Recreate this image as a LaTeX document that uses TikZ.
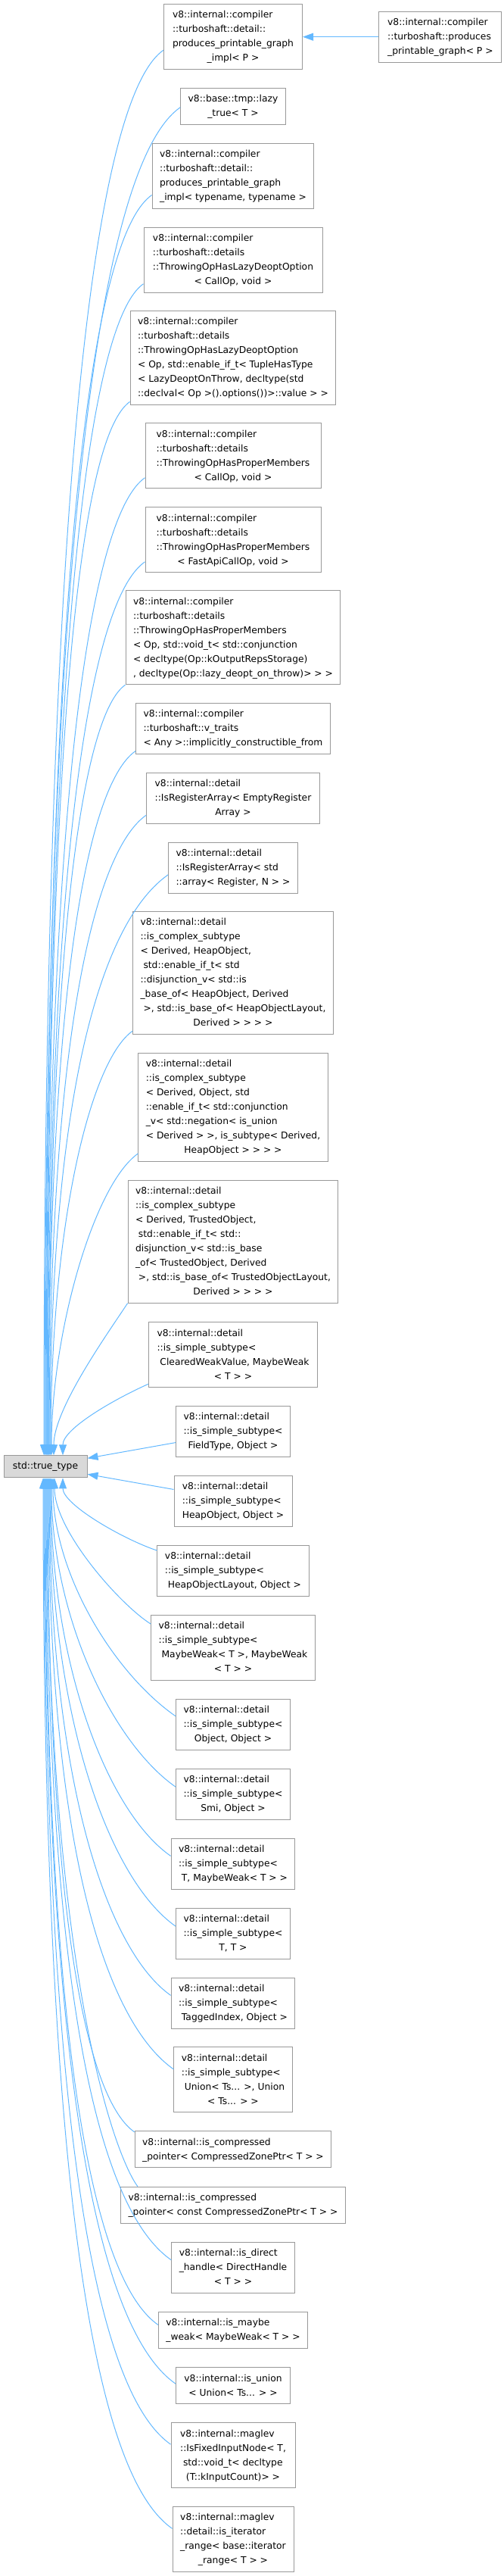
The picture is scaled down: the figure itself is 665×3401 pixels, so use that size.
\documentclass[tikz,border=0pt]{standalone}
\usepackage{fontspec}
\setmainfont{DejaVu Sans}
\usetikzlibrary{arrows.meta,calc}

\definecolor{edgeblue}{HTML}{63B8FF}
\definecolor{boxgray}{HTML}{999999}
\definecolor{curfill}{HTML}{D9D9D9}

% Class label: lines set flush left, the last line centred under them.
\newcommand{\cls}[2]{\begin{tabular}{@{}l@{}}#1\\\multicolumn{1}{@{}c@{}}{#2}\end{tabular}}

\begin{document}
\begin{tikzpicture}[x=1pt, y=-1pt,
  cls/.style={draw=boxgray, line width=1pt, fill=white, inner xsep=10pt, inner ysep=5pt,
    font=\fontsize{12.3}{19}\selectfont},
  cur/.style={cls, fill=curfill, minimum height=29pt},
  inh/.style={draw=edgeblue, line width=1pt, -{Triangle[length=14pt,width=10pt]}}]
  \useasboundingbox (0,0) rectangle (665,3401);

  % The base class, on its own at the left.
  \node[cur, minimum width=110pt] (tt) at (60,1936.3) {std::true\_type};

  % Derived classes, one column, all centred at x = 308.
  \node[cls, minimum width=183pt] (n1) at (308,48.3) {\cls{v8::internal::compiler\\::turboshaft::detail::\\produces\_printable\_graph}{\_impl< P >}};
  \node[cls, minimum width=162pt] (r0) at (581.9,48.7) {\cls{v8::internal::compiler\\::turboshaft::produces}{\_printable\_graph< P >}};
  \node[cls, minimum width=138pt] (n2) at (308,140.5) {\cls{v8::base::tmp::lazy}{\_true< T >}};
  \node[cls, minimum width=209pt] (n3) at (308,232.7) {\cls{v8::internal::compiler\\::turboshaft::detail::\\produces\_printable\_graph}{\_impl< typename, typename >}};
  \node[cls, minimum width=236pt] (n4) at (308,343) {\cls{v8::internal::compiler\\::turboshaft::details\\::ThrowingOpHasLazyDeoptOption}{< CallOp, void >}};
  \node[cls, minimum width=253pt] (n5) at (308,472.5) {\cls{v8::internal::compiler\\::turboshaft::details\\::ThrowingOpHasLazyDeoptOption\\< Op, std::enable\_if\_t< TupleHasType\\< LazyDeoptOnThrow, decltype(std}{::declval< Op >().options())>::value > >}};
  \node[cls, minimum width=232pt] (n6) at (308,601.7) {\cls{v8::internal::compiler\\::turboshaft::details\\::ThrowingOpHasProperMembers}{< CallOp, void >}};
  \node[cls, minimum width=232pt] (n7) at (308,712.7) {\cls{v8::internal::compiler\\::turboshaft::details\\::ThrowingOpHasProperMembers}{< FastApiCallOp, void >}};
  \node[cls, minimum width=277pt] (n8) at (308,841.7) {\cls{v8::internal::compiler\\::turboshaft::details\\::ThrowingOpHasProperMembers\\< Op, std::void\_t< std::conjunction\\< decltype(Op::kOutputRepsStorage)}{, decltype(Op::lazy\_deopt\_on\_throw)> > >}};
  \node[cls, minimum width=251pt] (n9) at (308,961.8) {\cls{v8::internal::compiler\\::turboshaft::v\_traits}{< Any >::implicitly\_constructible\_from}};
  \node[cls, minimum width=229pt] (n10) at (308,1054) {\cls{v8::internal::detail\\::IsRegisterArray< EmptyRegister}{Array >}};
  \node[cls, minimum width=161pt] (n11) at (308,1145.9) {\cls{v8::internal::detail\\::IsRegisterArray< std}{::array< Register, N > >}};
  \node[cls, minimum width=261pt] (n12) at (308,1284.5) {\cls{v8::internal::detail\\::is\_complex\_subtype\\< Derived, HeapObject,\\\ std::enable\_if\_t< std\\::disjunction\_v< std::is\\\_base\_of< HeapObject, Derived\\\ >, std::is\_base\_of< HeapObjectLayout,}{Derived > > > >}};
  \node[cls, minimum width=243pt] (n13) at (308,1461.7) {\cls{v8::internal::detail\\::is\_complex\_subtype\\< Derived, Object, std\\::enable\_if\_t< std::conjunction\\\_v< std::negation< is\_union\\< Derived > >, is\_subtype< Derived,}{HeapObject > > > >}};
  \node[cls, minimum width=276pt] (n14) at (308,1639.2) {\cls{v8::internal::detail\\::is\_complex\_subtype\\< Derived, TrustedObject,\\\ std::enable\_if\_t< std::\\disjunction\_v< std::is\_base\\\_of< TrustedObject, Derived\\\ >, std::is\_base\_of< TrustedObjectLayout,}{Derived > > > >}};
  \node[cls, minimum width=223pt] (n15) at (308,1788.7) {\cls{v8::internal::detail\\::is\_simple\_subtype<\\\ ClearedWeakValue, MaybeWeak}{< T > >}};
  \node[cls, minimum width=150pt] (n16) at (308,1889.8) {\cls{v8::internal::detail\\::is\_simple\_subtype<}{FieldType, Object >}};
  \node[cls, minimum width=156pt] (n17) at (308,1981.7) {\cls{v8::internal::detail\\::is\_simple\_subtype<}{HeapObject, Object >}};
  \node[cls, minimum width=198pt] (n18) at (308,2074) {\cls{v8::internal::detail\\::is\_simple\_subtype<}{\ HeapObjectLayout, Object >}};
  \node[cls, minimum width=213pt] (n19) at (308,2175.2) {\cls{v8::internal::detail\\::is\_simple\_subtype<\\\ MaybeWeak< T >, MaybeWeak}{< T > >}};
  \node[cls, minimum width=150pt] (n20) at (308,2276.5) {\cls{v8::internal::detail\\::is\_simple\_subtype<}{Object, Object >}};
  \node[cls, minimum width=150pt] (n21) at (308,2368.5) {\cls{v8::internal::detail\\::is\_simple\_subtype<}{Smi, Object >}};
  \node[cls, minimum width=155pt] (n22) at (308,2460.5) {\cls{v8::internal::detail\\::is\_simple\_subtype<}{\ T, MaybeWeak< T > >}};
  \node[cls, minimum width=150pt] (n23) at (308,2552.5) {\cls{v8::internal::detail\\::is\_simple\_subtype<}{T, T >}};
  \node[cls, minimum width=163pt] (n24) at (308,2644.5) {\cls{v8::internal::detail\\::is\_simple\_subtype<}{\ TaggedIndex, Object >}};
  \node[cls, minimum width=153pt] (n25) at (308,2745.8) {\cls{v8::internal::detail\\::is\_simple\_subtype<\\\ Union< Ts... >, Union}{< Ts... > >}};
  \node[cls, minimum width=254pt] (n26) at (308,2837.8) {\cls{v8::internal::is\_compressed}{\_pointer< CompressedZonePtr< T > >}};
  \node[cls, minimum width=290pt] (n27) at (308,2911.2) {\cls{v8::internal::is\_compressed}{\_pointer< const CompressedZonePtr< T > >}};
  \node[cls, minimum width=162pt] (n28) at (308,2993.8) {\cls{v8::internal::is\_direct\\\_handle< DirectHandle}{< T > >}};
  \node[cls, minimum width=188pt] (n29) at (308,3076.3) {\cls{v8::internal::is\_maybe}{\_weak< MaybeWeak< T > >}};
  \node[cls, minimum width=151pt] (n30) at (308,3149.8) {\cls{v8::internal::is\_union}{< Union< Ts... > >}};
  \node[cls, minimum width=164pt] (n31) at (308,3241.7) {\cls{v8::internal::maglev\\::IsFixedInputNode< T,\\\ std::void\_t< decltype}{(T::kInputCount)> >}};
  \node[cls, minimum width=160pt] (n32) at (308,3352.5) {\cls{v8::internal::maglev\\::detail::is\_iterator\\\_range< base::iterator}{\_range< T > >}};

  % The one edge that does not end at the base.
  \draw[inh] (r0.west) -- (r0.west -| n1.east);

  % Edges from the classes above the base, arriving on its top.
  \draw[inh] (n1.191) .. controls +(-79,55) and +(0,-1391) .. ([xshift=-2pt]tt.north);
  \draw[inh] (n2.181) .. controls +(-90,63) and +(0,-1334) .. ([xshift=-1pt]tt.north);
  \draw[inh] (n3.193) .. controls +(-72,50) and +(0,-1249) .. (tt.north);
  \draw[inh] (n4.195) .. controls +(-65,45) and +(0,-1145) .. ([xshift=1pt]tt.north);
  \draw[inh] (n5.203) .. controls +(-60,42) and +(0,-1018) .. ([xshift=2pt]tt.north);
  \draw[inh] (n6.194) .. controls +(-65,45) and +(0,-929) .. ([xshift=2pt]tt.north);
  \draw[inh] (n7.194) .. controls +(-65,45) and +(0,-849) .. ([xshift=3pt]tt.north);
  \draw[inh] (n8.south west) .. controls +(-53,37) and +(0,-712) .. ([xshift=4pt]tt.north);
  \draw[inh] (n9.193) .. controls +(-59,41) and +(0,-650) .. ([xshift=4pt]tt.north);
  \draw[inh] (n10.191) .. controls +(-64,45) and +(0,-574) .. ([xshift=5pt]tt.north);
  \draw[inh] (n11.186) .. controls +(-81,57) and +(0,-506) .. ([xshift=6pt]tt.north);
  \draw[inh] (n12.210) .. controls +(-55,39) and +(0,-309) .. ([xshift=7pt]tt.north);
  \draw[inh] (n13.206) .. controls +(-59,42) and +(0,-160) .. ([xshift=8pt]tt.north);
  \draw[inh] (n14.south west) .. controls +(-30,45) and +(0,-60) .. ([xshift=11pt]tt.north);
  \draw[inh] (n15.199) .. controls +(-45,20) and +(0,-35) .. ([xshift=23pt]tt.north);

  % The two nearest classes come straight in on the right side.
  \draw[inh] (n16.191) -- ([yshift=11pt]tt.east);
  \draw[inh] (n17.169) -- ([yshift=-10pt]tt.east);

  % Edges from the classes below, arriving on its bottom.
  \draw[inh] (n18.165) .. controls +(-45,-15) and +(0,35) .. ([xshift=23pt]tt.south);
  \draw[inh] (n19.164) .. controls +(-40,-25) and +(0,70) .. ([xshift=12pt]tt.south);
  \draw[inh] (n20.172) .. controls +(-82,-57) and +(0,126) .. ([xshift=10pt]tt.south);
  \draw[inh] (n21.173) .. controls +(-83,-58) and +(0,184) .. ([xshift=8pt]tt.south);
  \draw[inh] (n22.173) .. controls +(-82,-57) and +(0,250) .. ([xshift=7pt]tt.south);
  \draw[inh] (n23.173) .. controls +(-84,-59) and +(0,326) .. ([xshift=6pt]tt.south);
  \draw[inh] (n24.173) .. controls +(-81,-57) and +(0,410) .. ([xshift=5pt]tt.south);
  \draw[inh] (n25.170) .. controls +(-84,-59) and +(0,508) .. ([xshift=4pt]tt.south);
  \draw[inh] (n26.170) .. controls +(-59,-41) and +(0,605) .. ([xshift=3pt]tt.south);
  \draw[inh] (n27.169) .. controls +(-30,-40) and +(0,655) .. ([xshift=2pt]tt.south);
  \draw[inh] (n28.173) .. controls +(-83,-58) and +(0,744) .. ([xshift=1pt]tt.south);
  \draw[inh] (n29.176) .. controls +(-77,-54) and +(0,805) .. (tt.south);
  \draw[inh] (n30.178) .. controls +(-87,-61) and +(0,873) .. ([xshift=-1pt]tt.south);
  \draw[inh] (n31.170) .. controls +(-84,-59) and +(0,944) .. ([xshift=-2pt]tt.south);
  \draw[inh] (n32.170) .. controls +(-86,-60) and +(0,1041) .. ([xshift=-3pt]tt.south);
\end{tikzpicture}
\end{document}
